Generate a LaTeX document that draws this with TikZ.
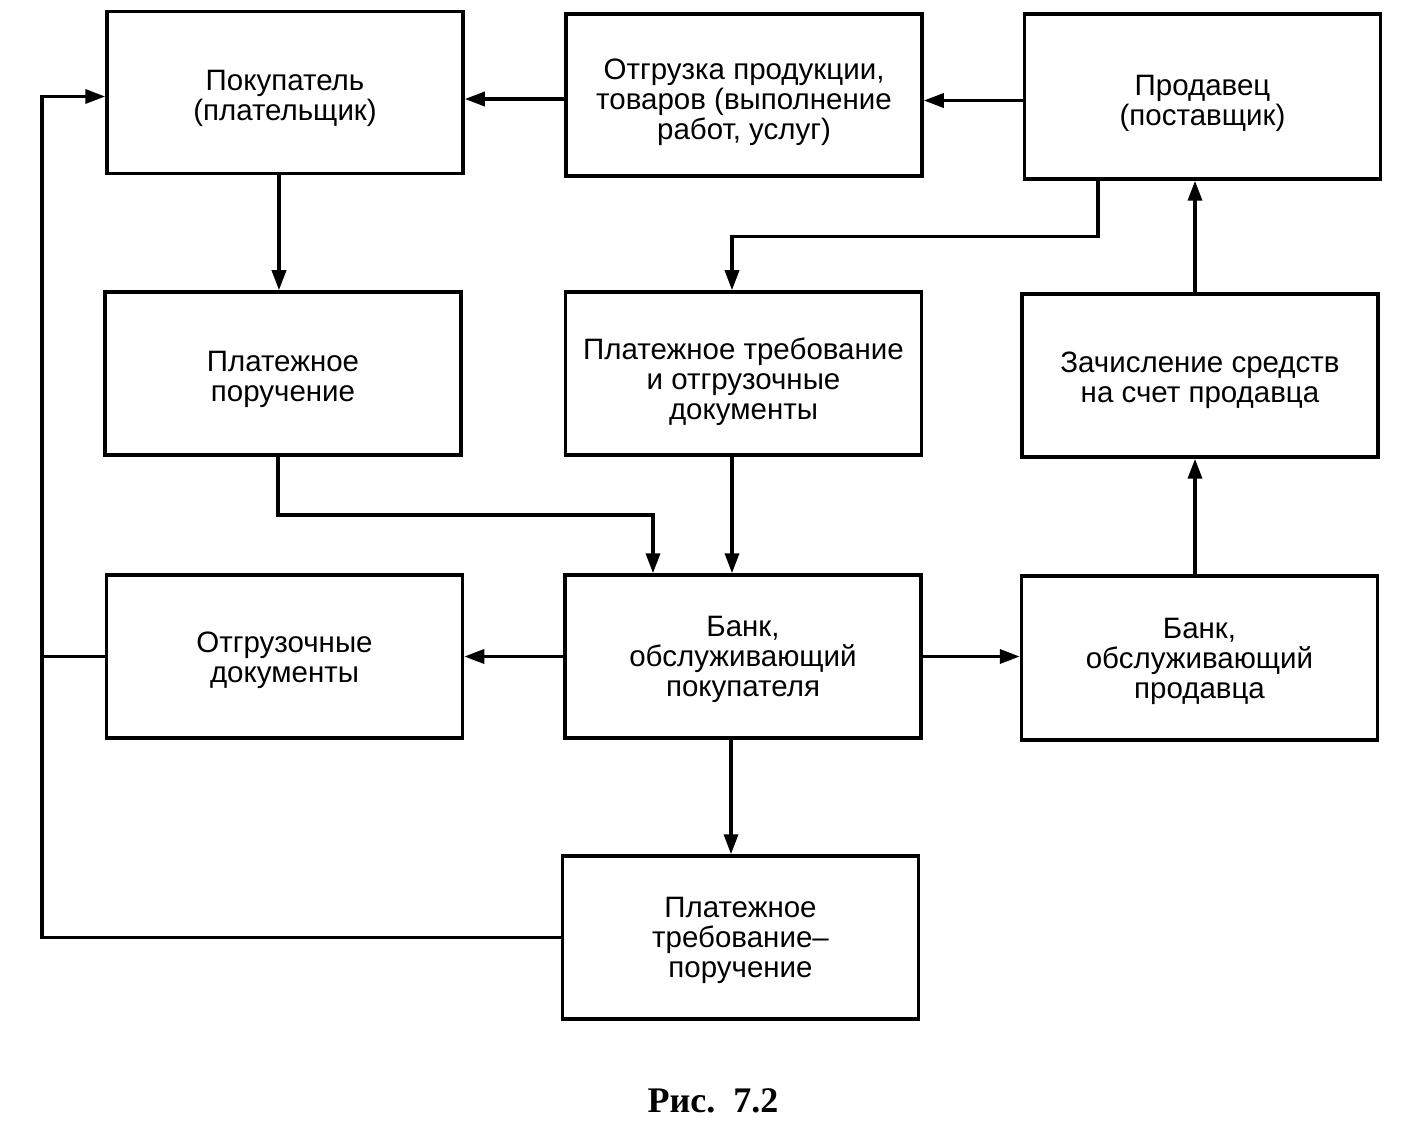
\documentclass[tikz,border=0pt]{standalone}
\usepackage{fontspec}
\setmainfont{Liberation Sans}
\newfontfamily\capfont{Liberation Serif}
\usetikzlibrary{arrows.meta,calc}
\begin{document}
\begin{tikzpicture}[x=1pt,y=-1pt,
  box/.style={draw,line width=3.5pt,minimum width=356pt,minimum height=162pt,inner sep=0pt},
  txt/.style={align=center,inner sep=0pt,font=\fontsize{29.5}{30}\selectfont},
  conn/.style={line width=3.5pt},
  arr/.style={conn,-{Triangle[length=20pt,width=14pt]}}]
\fill[white] (0,0) rectangle (1417,1139);
\useasboundingbox (0,0) rectangle (1417,1139);
% boxes
\node[box] (pok) at (285,92.5) {};
\node[box] (otgr) at (744,95) {};
\node[box,minimum height=165pt] (prod) at (1202.5,96.5) {};
\node[box,minimum height=163pt] (pp) at (283,373.5) {};
\node[box,minimum height=163pt] (pt) at (743.5,373.5) {};
\node[box,minimum height=163pt] (zach) at (1200,375.5) {};
\node[box,minimum height=163pt] (otd) at (284.5,656.5) {};
\node[box,minimum height=163pt] (bankp) at (743,656.5) {};
\node[box,minimum height=164pt] (bankprod) at (1199.5,658) {};
\node[box,minimum height=163pt] (ptp) at (740.5,937.5) {};
% texts
\node[txt] (pokT) at ([yshift=-6pt]pok.center) {Покупатель\\(плательщик)};
\node[txt] (otgrT) at ([yshift=-7pt]otgr.center) {Отгрузка продукции,\\товаров (выполнение\\работ, услуг)};
\node[txt] (prodT) at ([yshift=-7pt]prod.center) {Продавец\\(поставщик)};
\node[txt] (ppT) at ([yshift=-6pt]pp.center) {Платежное\\поручение};
\node[txt] (ptT) at ([yshift=-8pt]pt.center) {Платежное требование\\и отгрузочные\\документы};
\node[txt] (zachT) at ([yshift=-5pt]zach.center) {Зачисление средств\\на счет продавца};
\node[txt] (otdT) at ([yshift=-4pt]otd.center) {Отгрузочные\\документы};
\node[txt] (bankpT) at ([yshift=-3pt]bankp.center) {Банк,\\обслуживающий\\покупателя};
\node[txt] (bankprodT) at ([yshift=-3pt]bankprod.center) {Банк,\\обслуживающий\\продавца};
\node[txt] (ptpT) at ([yshift=-3pt]ptp.center) {Платежное\\требование–\\поручение};
\node[font=\capfont\bfseries\fontsize{36}{40}\selectfont] (cap) at (713,1101) {Рис.\, 7.2};
\coordinate (lft) at (42,0);
% connectors
\draw[arr] ([yshift=-4pt]otgr.west) -- ([yshift=-4pt]otgr.west -| pok.east);
\draw[arr] ([yshift=-4pt]prod.west) -- ([yshift=-4pt]prod.west -| otgr.east);
\draw[arr] ([xshift=-6pt]pok.south) -- ([xshift=-6pt]pok.south |- pp.north);
\draw[arr] ([xshift=-104.5pt]prod.south) -- ++(0,56) -| ([xshift=-11.5pt]pt.north);
\draw[arr] ([xshift=-5pt]pp.south) -- ++(0,58) -| ([xshift=-90pt]bankp.north);
\draw[arr] ([xshift=-11.5pt]pt.south) -- ([xshift=-11.5pt]pt.south |- bankp.north);
\draw[arr] (bankp.west) -- (bankp.west -| otd.east);
\draw[arr] (bankp.east) -- (bankp.east -| bankprod.west);
\draw[arr] ([xshift=-4.5pt]bankprod.north) -- ([xshift=-4.5pt]bankprod.north |- zach.south);
\draw[arr] ([xshift=-5pt]zach.north) -- ([xshift=-5pt]zach.north |- prod.south);
\draw[arr] ([xshift=-12pt]bankp.south) -- ([xshift=-12pt]bankp.south |- ptp.north);
\draw[arr] (ptp.west) -| ([yshift=-4pt]lft |- pok.west) -- ([yshift=-4pt]pok.west);
\draw[conn] (otd.west) -- (otd.west -| lft);
\end{tikzpicture}
\end{document}
